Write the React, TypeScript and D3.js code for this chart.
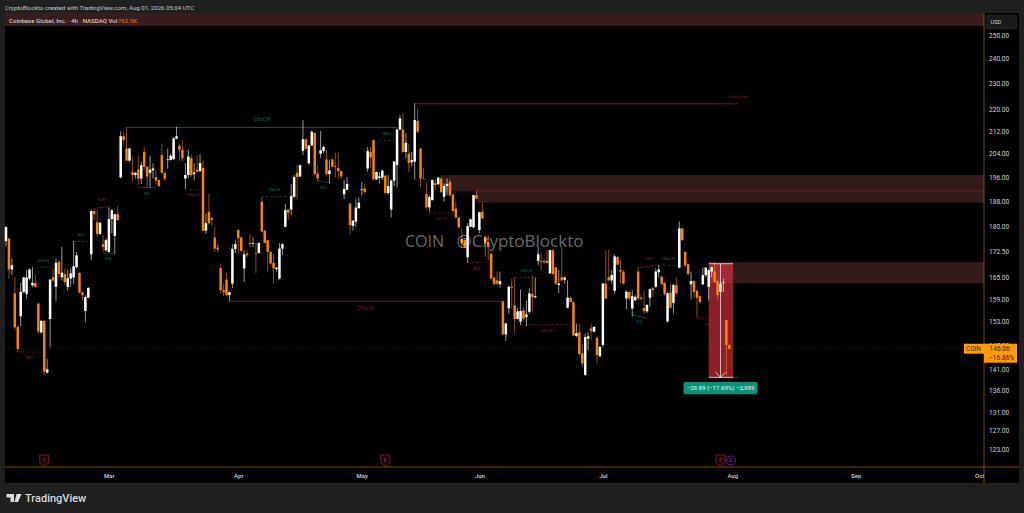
import React, { useEffect, useRef } from 'react';
import * as d3 from 'd3';

// 4h COIN candles
const opens = [
  175.6,176.4,167.3,160.6,151.6,154.4,161,160.4,164.7,162.8,
  163.5,157.8,150.2,153.2,140.2,153.7,165,162.4,169.5,165.1,
  166,162.4,164.7,165,168,166.3,160.9,155.8,159.4,171.7,
  184.9,181.4,177.8,174.7,172.9,172.4,182.4,177.2,183.9,195.9,
  210.2,205.8,201.6,197.7,196.7,198.5,195.5,204.6,199.5,197.4,
  198.3,196,195,203.5,197.4,201.8,201.8,202.1,209.3,206.8,
  205.4,195.5,196.7,202.4,197,198.5,198,199.1,178.8,184.7,
  182.7,176.7,173.7,167.7,161.5,164.4,160.1,163.3,173.3,179,
  176.7,167.6,171.9,175,174.8,172.1,172.1,187.9,178.8,175.9,
  172.4,169.2,167.4,164.7,173.4,180,185.4,185.4,189.5,197.4,
  196.2,205,209.1,200.7,206.9,211.4,197.2,204,205,202,
  197,202,199.8,199.1,198,190.3,191.8,187.3,180.3,181.6,
  185.8,191.7,192.2,198.9,204.6,208.8,195.2,195.7,195.8,196.4,
  190.7,185.4,194.8,200.1,212.6,212.6,204.6,204,201,201.2,
  215.8,205.8,195.5,190.3,186.1,188.4,193.9,193.6,195.5,189.5,
  193,194.3,190.2,185.7,182.9,176.3,175.9,170.8,180,179.8,
  190,179,184.7,177,175.4,171.9,165,164.2,163.1,158.4,
  149.7,156.5,162.4,157.3,153.7,153,156,154.2,155.6,160.4,
  159.5,169.8,169.8,169.8,169.8,166.2,172.9,167.9,162.9,165.1,
  164.4,156.7,159.4,158.2,149.3,150.2,144.9,139.6,148.6,151.2,
  150.4,148.8,144.2,147,163.3,165.1,164.2,161.3,170.9,167.1,
  166.7,159.2,161,156.5,158.7,166.7,159.4,156.6,155.7,159.4,
  162,162.4,166.5,165.3,163.5,153,160.8,158,162.8,167.8,
  179.5,172.4,168.8,163.1,164,161.3,159.8,163.1,165.7,162.4,
  166.7,166.7,164,161,163.4,153.4,147,
];
const highs = [
  180.2,176.6,170.5,165,152,163.5,165.2,167.1,167.6,167.9,
  165.7,158,153.4,153.4,143.6,164.6,167.6,170.5,170,173.9,
  167.6,167.1,167.6,175.7,172.4,166.5,161,160.1,162.3,185.4,
  185.6,185.2,181.6,177.5,176.4,186.1,185.4,184,186.3,212,
  211.8,213.4,206,203,197.8,203.5,201.2,206.4,199.7,203.2,
  200.7,198.3,195.2,207.6,197.8,205.8,204,210,213.6,207.5,
  208.8,200.7,205.4,203.5,200.7,203.5,203.8,201.6,184.2,190.5,
  183.1,179.8,174.9,168.8,163.3,166.3,161,174.7,175.9,179.2,
  177,172.9,172.9,177.8,176.7,175,175.2,189.4,179,176.1,
  172.6,171.9,168,175,175,187.2,185.6,193.7,196.7,200,
  200.2,216.1,209.3,207.1,212.2,211.6,200,212,206.7,205.2,
  202,202.4,204.3,204.3,198.2,195,196,187.6,182,188.9,
  189.2,194.4,193.7,206.4,206.4,209,197.9,197.7,198.3,196.7,
  196.7,195.2,201.5,213,218,218.6,211.2,207.5,204.6,222.4,
  220.4,206,198.9,194.1,190,195.2,195.2,196,196.2,193.9,
  195.5,195.3,190.4,187.9,183.1,179.5,176.4,181.1,182.6,190.2,
  191.6,184.7,187.9,177.3,177.5,172.2,165.2,166.7,166.7,158.6,
  152.7,162.7,164.7,165,156.5,161.7,156.7,158.7,162,165.7,
  165,173.9,171.9,170.2,172.9,173.1,173.1,168,167.1,173.9,
  165.3,164.2,159.6,158.4,152.5,152.5,147.2,149.9,150.2,152.5,
  151.8,149,146.8,163.5,172.9,173.1,167.1,171.7,171.1,170.2,
  167.1,161.5,161.2,161.5,160.1,167.9,160.1,161.3,157.7,162,
  162.4,167.6,168.5,165.5,163.7,160.8,163.3,163.3,165.1,181.6,
  179.7,172.6,169,166.7,164.2,161.5,160,167.9,168,167.3,
  168.2,169.5,164.2,163.9,164.7,153.6,147.2,
];
const lows = [
  174.1,164.7,165.7,151,145.3,151.8,160.6,159.2,164.2,162.4,
  162.3,149.9,149.9,139.6,140,146.4,163.7,158.5,165.1,164.2,
  162.9,161.3,162.4,163.3,167.6,160.6,158.7,152.8,159.2,170,
  182.1,177,177.5,172.4,172.4,172.2,178,171.9,181.9,195.5,
  206.9,201.4,201.2,194.8,195.5,193.4,193.7,198.3,192.5,192.5,
  195.5,193.4,192.7,197.2,194.8,198.8,201.6,201.8,209.1,201.6,
  201.2,192,195.5,196,194.8,197.6,197.7,178.6,177.8,180.6,
  180.2,172.4,172.1,160.6,159.8,159.8,158.4,162,172,172,
  172.4,163.7,170.9,173.7,173.9,166.2,171.9,178.3,175,166.7,
  168.5,163.3,166.7,164.4,171.4,179.8,182.1,183.5,189.2,188.6,
  196,203.5,205.6,200,206.7,196.8,194.4,202.4,204.3,196.2,
  193.9,199.3,195.8,195.5,195.5,188.7,191.6,177.7,178.8,180,
  185.6,190,190.5,197.8,198.9,195,195,193.9,195,190.5,
  190.3,182.9,193,192.7,212.4,204.3,202.4,197.7,199.7,195.2,
  211.4,192.5,195.2,185.4,184.7,188.3,191.6,193.4,190.7,187.9,
  190,189.5,184.7,182.8,179.5,173.9,173.5,169.2,179.8,179.6,
  188.7,178,182.3,171,170,164.5,163,162.9,162.2,149.5,
  148,155,156.5,150,153.5,152.1,153.4,151.8,155.1,155.6,
  159.3,168.5,167.1,168.9,169,166,165.7,162.9,160.6,164,
  163.3,156.5,158.1,149.2,149,144.4,141.6,139.5,145.7,148.2,
  150.2,142.4,144,146.5,159,164,163.3,160.4,168.5,163.3,
  163.1,156.2,158.7,154.3,158.6,158.7,158.7,155.1,155.3,156.9,
  159.6,162,165,162.9,159.8,152.8,156.5,155.1,160.1,167.6,
  175.7,168,165.7,158.9,159.2,154.1,157.8,162.9,165.1,158.7,
  165.1,163.5,158.9,160.8,161,139.6,146,
];
const closes = [
  179.9,167.3,168.5,151.5,146,161,165,165,167.3,163.5,
  162.4,150.4,153.2,140.4,141,164.4,164.2,169.2,166,166.4,
  163.7,164.8,166.2,168.2,171.4,160.8,160.1,159.6,162.1,184.9,
  183.9,177.8,181.2,173.9,175.9,182.4,185.2,183.9,182.1,210.2,
  208.8,201.6,205.8,196.7,197.4,195.5,200,199.5,196.2,198.5,
  198.9,194.8,193,197.4,195.4,202,203.3,209.4,210.2,205.4,
  202.4,196.7,203,196.7,197.5,197.7,200.7,178.8,181.1,181.1,
  182.1,173.4,173.1,161.5,160.9,160.1,160.9,173.3,174.7,176.5,
  172.7,171.7,171.4,174.7,175,171.9,175.1,178.5,175.1,172.4,
  169,167.6,167.8,173.4,174.7,185.2,184.4,189.7,196,196,
  200,209.1,205.8,206.9,211.8,197,195.5,205.2,206.4,197,
  198.2,199.5,199.5,198,196.2,192,193.7,180.5,181.9,186,
  187.6,191.9,191,204.9,202.7,195.2,197.7,196.2,198.2,190.7,
  193,194.8,201.3,212.6,216.7,204.6,207.8,200.8,201.8,216.1,
  211.8,195.5,195.3,186.1,189.4,195,193.4,195.8,191,193,
  193.7,190,184.9,182.9,179.8,175,173.7,180.2,182.3,190,
  188.9,184.5,182.6,175,173.9,164.7,163.1,163.3,164,149.7,
  152.5,162.4,162.1,153.7,155.7,155.8,153.8,154.9,160.6,159.5,
  159.8,171.7,169.5,169.4,169.2,172.9,166,163.3,163.3,164.2,
  165,159.4,158.2,149.4,150,144.7,142.4,149,149.2,150.5,
  151.6,144.5,146.5,163.3,159.2,164.2,165.7,171.1,168.7,166.7,
  163.3,161,159.2,159.8,159.6,159.2,159.1,155.8,157.4,161.7,
  161.5,166.7,167.3,163.1,160.4,160.6,156.7,162.9,160.6,179.5,
  175.9,168.5,166,164,161,159.4,158.2,165.7,167.8,167.1,
  168,163.7,160.1,163.3,163.6,147,146.06,
];

const priceTicks = [250, 240, 230, 220, 212, 204, 196, 188, 180, 172.5, 165, 159, 153, 147, 141, 136, 131, 127, 123];
const monthLabels = ['Mar', 'Apr', 'May', 'Jun', 'Jul', 'Aug', 'Sep', 'Oct'];
const monthBars = [35, 79, 121, 161, 203, 247, 289, 331];
const earningsBars = [13, 129, 243];
const splitBar = 246.5;

// label, trend, start bar, end bar, price
const dashedLevels: [string, string, number, number, number][] = [
  ['BOS', 'bear', 4, 12, 145.2],
  ['CHoCH', 'bull', 9, 16, 168],
  ['BOS', 'bull', 23, 28, 175.5],
  ['CHoCH', 'bear', 61, 66, 191.9],
  ['CHoCH', 'bull', 87, 95.5, 189.5],
  ['BOS', 'bull', 127, 132, 208.7],
  ['CHoCH', 'bear', 144, 152, 184.3],
  ['BOS', 'bear', 157, 163.5, 169.3],
  ['CHoCH', 'bull', 173, 181, 165],
  ['CHoCH', 'bear', 175, 193, 152.2],
  ['CHoCH', 'bull', 222, 228.5, 168.5],
  ['CHoCH', 'bear', 235, 244.5, 153.8],
];
// label, trend, start bar, end bar, start price, end price
const equalLevels: [string, string, number, number, number, number][] = [
  ['EQH', 'bear', 30, 35, 185.7, 186.4],
  ['EQL', 'bull', 33, 37, 172, 171.9],
  ['EQL', 'bull', 45, 51, 192.5, 192.5],
  ['EQL', 'bull', 106, 110, 194.7, 194.1],
  ['EQL', 'bull', 213, 218, 154.8, 153.9],
  ['EQH', 'bear', 215, 222, 167.8, 168.7],
];
const mainLevels: [string, string, number, number, number][] = [
  ['CHoCH', 'bull', 41, 133, 213.4],
  ['CHoCH', 'bear', 76, 168.7, 158.4],
];
const strongHigh = { startBar: 139, endBar: 249, price: 222.2 };

// supply zones: start bar, top price, bottom price
const zones: [number, number, number][] = [
  [148, 196.7, 191.2],
  [160, 191.2, 187.6],
  [239, 169.4, 163.4],
];
const zoneLinePrice = 191.4;
const zoneLineBar = 160;

const lastPrice = 146.06;
const measureFromBar = 239;
const measureToBar = 247.3;
const measureTop = 168.96;
const measureBottom = 139.07;

const ORANGE = '#f9830a';
const BULL_TEXT = '#0f7463';
const BEAR_TEXT = '#8c1f2a';
const FONT = 'Roboto, sans-serif';

const App: React.FC = () => {
  const svgRef = useRef<SVGSVGElement>(null);

  useEffect(() => {
    if (!svgRef.current) return;
    const svg = d3.select(svgRef.current);
    svg.selectAll('*').remove();

    const axisX = 984;
    const x = d3.scaleLinear().domain([0, 246]).range([6, 729.3]);
    const y = d3.scaleLog().domain([123, 250]).range([449, 35]);

    // page chrome
    svg.append('rect').attr('width', 1024).attr('height', 513).attr('fill', '#202020');
    svg.append('rect').attr('x', 5).attr('y', 13).attr('width', 1014).attr('height', 470).attr('fill', '#000');
    svg.append('rect').attr('x', 5).attr('y', 13).attr('width', axisX - 5).attr('height', 13).attr('fill', '#381c1e');

    svg.append('text').attr('x', 5).attr('y', 9.5).attr('font-family', FONT).attr('font-size', 6.1)
      .attr('fill', '#c4c4c4').text('CryptoBlockto created with TradingView.com, Aug 01, 2026 05:04 UTC');
    const title = svg.append('text').attr('x', 9).attr('y', 22.5).attr('font-family', FONT).attr('font-size', 6.1)
      .attr('font-weight', 500).attr('fill', '#cfcfcf');
    title.append('tspan').text('Coinbase Global, Inc. · 4h · NASDAQ  Vol');
    title.append('tspan').attr('fill', '#e0620d').attr('dx', 0.5).text('762.5K');

    // zones
    zones.forEach(([bar, top, bottom]) => {
      svg.append('rect').attr('x', x(bar)).attr('y', y(top))
        .attr('width', axisX - x(bar)).attr('height', y(bottom) - y(top)).attr('fill', '#331b1c');
    });
    svg.append('line').attr('x1', x(zoneLineBar)).attr('x2', axisX)
      .attr('y1', y(zoneLinePrice)).attr('y2', y(zoneLinePrice))
      .attr('stroke', '#5f2c2e').attr('stroke-width', 1);

    // last price line
    svg.append('line').attr('x1', 5).attr('x2', 964).attr('y1', y(lastPrice)).attr('y2', y(lastPrice))
      .attr('stroke', '#5a3303').attr('stroke-width', 0.5).attr('stroke-dasharray', '1,2');

    // measure box sits under the candles
    const mx0 = x(measureFromBar);
    const mx1 = x(measureToBar);
    const my0 = y(measureTop);
    const my1 = y(measureBottom);
    svg.append('rect').attr('x', mx0).attr('y', my0).attr('width', mx1 - mx0).attr('height', my1 - my0)
      .attr('fill', 'rgb(242,54,69)').attr('fill-opacity', 0.58);

    // structure levels
    const levelText = (label: string, trend: string, px: number, py: number, size: number) => {
      svg.append('text').attr('x', px).attr('y', py).attr('text-anchor', 'middle')
        .attr('dominant-baseline', 'middle').attr('font-family', FONT).attr('font-size', size)
        .attr('fill', trend === 'bull' ? BULL_TEXT : BEAR_TEXT).text(label);
    };
    const above = (label: string, trend: string) => label === 'EQH' || (trend === 'bull' && label !== 'EQL');

    dashedLevels.forEach(([label, trend, b0, b1, price]) => {
      svg.append('line').attr('x1', x(b0)).attr('x2', x(b1)).attr('y1', y(price)).attr('y2', y(price))
        .attr('stroke', trend === 'bull' ? '#0c6b5a' : '#8a1c28').attr('stroke-width', 0.7)
        .attr('stroke-dasharray', '2.2,2.2');
      levelText(label, trend, x((b0 + b1) / 2), y(price) + (above(label, trend) ? -6.5 : 6), 3.7);
    });
    equalLevels.forEach(([label, trend, b0, b1, p0, p1]) => {
      svg.append('line').attr('x1', x(b0)).attr('x2', x(b1)).attr('y1', y(p0)).attr('y2', y(p1))
        .attr('stroke', trend === 'bull' ? '#0c6b5a' : '#8a1c28').attr('stroke-width', 0.7);
      levelText(label, trend, x((b0 + b1) / 2), (y(p0) + y(p1)) / 2 + (above(label, trend) ? -7.5 : 6), 3.7);
    });
    mainLevels.forEach(([label, trend, b0, b1, price]) => {
      svg.append('line').attr('x1', x(b0)).attr('x2', x(b1)).attr('y1', y(price)).attr('y2', y(price))
        .attr('stroke', trend === 'bull' ? '#0b6655' : '#861a24').attr('stroke-width', 0.9);
      levelText(label, trend, x((b0 + b1) / 2), y(price) + (trend === 'bull' ? -8 : 7), 5);
    });
    svg.append('line').attr('x1', x(strongHigh.startBar)).attr('x2', x(strongHigh.endBar))
      .attr('y1', y(strongHigh.price)).attr('y2', y(strongHigh.price))
      .attr('stroke', '#861a24').attr('stroke-width', 0.9);
    levelText('Strong High', 'bear', x(strongHigh.endBar), y(strongHigh.price) - 6.5, 3.7);

    // candles
    const bars = d3.range(closes.length);
    const candle = svg.append('g');
    candle.selectAll('line').data(bars).join('line')
      .attr('x1', d => x(d)).attr('x2', d => x(d))
      .attr('y1', d => y(highs[d])).attr('y2', d => y(lows[d]))
      .attr('stroke', d => (closes[d] >= opens[d] ? '#ffffff' : ORANGE))
      .attr('stroke-width', 0.6);
    candle.selectAll('rect').data(bars).join('rect')
      .attr('x', d => x(d) - 1.25).attr('width', 2.5)
      .attr('y', d => y(Math.max(opens[d], closes[d])))
      .attr('height', d => Math.max(0.7, Math.abs(y(opens[d]) - y(closes[d]))))
      .attr('fill', d => (closes[d] >= opens[d] ? '#ffffff' : ORANGE));

    // measure edges and arrow
    const midX = (mx0 + mx1) / 2 - 0.4;
    [my0, my1].forEach(py => {
      svg.append('line').attr('x1', mx0).attr('x2', mx1).attr('y1', py).attr('y2', py)
        .attr('stroke', '#d8c6c8').attr('stroke-width', 1);
    });
    svg.append('line').attr('x1', midX).attr('x2', midX).attr('y1', my0).attr('y2', my1)
      .attr('stroke', '#e4dcdc').attr('stroke-width', 0.8);
    const head = d3.path();
    head.moveTo(midX - 5, my1 - 5);
    head.lineTo(midX, my1);
    head.lineTo(midX + 5, my1 - 5);
    svg.append('path').attr('d', head.toString()).attr('fill', 'none').attr('stroke', '#e4dcdc').attr('stroke-width', 0.9);
    svg.append('line').attr('x1', mx1).attr('x2', mx1 + 5.5).attr('y1', my1).attr('y2', my1)
      .attr('stroke', '#0c6b5a').attr('stroke-width', 0.8);
    svg.append('rect').attr('x', 683.5).attr('y', my1 + 4.7).attr('width', 74).attr('height', 12.3).attr('rx', 1.5).attr('fill', '#079279');
    svg.append('text').attr('x', 720.5).attr('y', my1 + 11).attr('text-anchor', 'middle').attr('dominant-baseline', 'middle')
      .attr('font-family', FONT).attr('font-size', 6.1).attr('fill', '#f2f2f2').text('−29.89 (−17.69%) −2,989');

    // watermark
    const mark = svg.append('g').attr('font-family', '"Open Sans", sans-serif')
      .attr('fill', '#ffffff').attr('fill-opacity', 0.42);
    mark.append('text').attr('x', 405).attr('y', 246.5).attr('font-size', 16).text('COIN');
    mark.append('text').attr('x', 456.5).attr('y', 246.5).attr('font-size', 17).text('@CryptoBlockto');

    // event markers
    earningsBars.forEach(bar => {
      const cx = x(bar);
      const shield = d3.path();
      shield.moveTo(cx - 4.5, 455);
      shield.lineTo(cx + 4.5, 455);
      shield.lineTo(cx + 4.5, 462.5);
      shield.lineTo(cx, 466);
      shield.lineTo(cx - 4.5, 462.5);
      shield.closePath();
      svg.append('path').attr('d', shield.toString()).attr('fill', '#120306').attr('stroke', '#8e1c2d').attr('stroke-width', 0.9);
      svg.append('text').attr('x', cx).attr('y', 460.3).attr('text-anchor', 'middle').attr('dominant-baseline', 'middle')
        .attr('font-family', FONT).attr('font-size', 5).attr('fill', '#a82437').text('E');
    });
    svg.append('circle').attr('cx', x(splitBar)).attr('cy', 460.5).attr('r', 4.6)
      .attr('fill', '#0b0410').attr('stroke', '#6d2a96').attr('stroke-width', 0.9);
    svg.append('text').attr('x', x(splitBar)).attr('y', 460.7).attr('text-anchor', 'middle').attr('dominant-baseline', 'middle')
      .attr('font-family', FONT).attr('font-size', 5).attr('fill', '#8a3cbd').text('2');

    // axes
    const yAxis = svg.append('g').attr('transform', `translate(${axisX},0)`)
      .call(d3.axisRight(y).tickValues(priceTicks).tickFormat(d => d3.format('.2f')(d as number)).tickSize(0).tickPadding(5));
    yAxis.select('.domain').remove();
    yAxis.selectAll('text').attr('font-family', FONT).attr('font-size', 6.6).attr('fill', '#d4d4d4');

    const xAxis = svg.append('g').attr('transform', 'translate(0,467)')
      .call(d3.axisBottom(x).tickValues(monthBars).tickFormat((_, i) => monthLabels[i]).tickSize(0).tickPadding(6.5));
    xAxis.select('.domain').remove();
    xAxis.selectAll('text').attr('font-family', FONT).attr('font-size', 6).attr('font-weight', 500).attr('fill', '#d4d4d4');

    svg.append('line').attr('x1', axisX).attr('x2', axisX).attr('y1', 13).attr('y2', 483)
      .attr('stroke', '#8f5208').attr('stroke-width', 0.9);
    svg.append('line').attr('x1', 5).attr('x2', 1019).attr('y1', 467).attr('y2', 467)
      .attr('stroke', '#8f5208').attr('stroke-width', 0.9);

    // USD box
    svg.append('rect').attr('x', 986).attr('y', 15).attr('width', 31).attr('height', 14).attr('rx', 1.5)
      .attr('fill', '#1a1a1a').attr('stroke', '#2c2c2c').attr('stroke-width', 0.6);
    svg.append('text').attr('x', 990.5).attr('y', 24.3).attr('font-family', FONT).attr('font-size', 5.6).attr('fill', '#cfcfcf').text('USD');

    // last price tag
    const tagY = y(lastPrice);
    svg.append('rect').attr('x', 964).attr('y', tagY - 5).attr('width', 21).attr('height', 10).attr('fill', '#ff9b0a');
    svg.append('rect').attr('x', 984).attr('y', tagY - 5).attr('width', 33).attr('height', 19).attr('fill', '#ff9b0a');
    svg.append('text').attr('x', 966).attr('y', tagY + 2.3).attr('font-family', FONT).attr('font-size', 6.4).attr('fill', '#3a2400').text('COIN');
    svg.append('text').attr('x', 989.5).attr('y', tagY + 2.3).attr('font-family', FONT).attr('font-size', 6.6).attr('fill', '#2a1a00').text(d3.format('.2f')(lastPrice));
    svg.append('text').attr('x', 989).attr('y', tagY + 11).attr('font-family', FONT).attr('font-size', 6.6).attr('fill', '#2a1a00').text('−16.86%');

    // TradingView footer
    const logo = d3.path();
    logo.moveTo(6.5, 494);
    logo.lineTo(14, 494);
    logo.lineTo(14, 502);
    logo.lineTo(10.5, 502);
    logo.lineTo(10.5, 497.5);
    logo.lineTo(6.5, 497.5);
    logo.closePath();
    logo.moveTo(16.5, 494);
    logo.lineTo(21.5, 494);
    logo.lineTo(18, 502);
    logo.lineTo(14.5, 502);
    logo.closePath();
    svg.append('path').attr('d', logo.toString()).attr('fill', '#dcdcdc');
    svg.append('text').attr('x', 25).attr('y', 501.5).attr('font-family', FONT).attr('font-size', 11)
      .attr('font-weight', 500).attr('fill', '#d8d8d8').text('TradingView');
  }, []);

  return <svg ref={svgRef} width={1024} height={513} style={{ position: 'absolute', left: 0, top: 0, display: 'block' }}></svg>;
};

export default App;
